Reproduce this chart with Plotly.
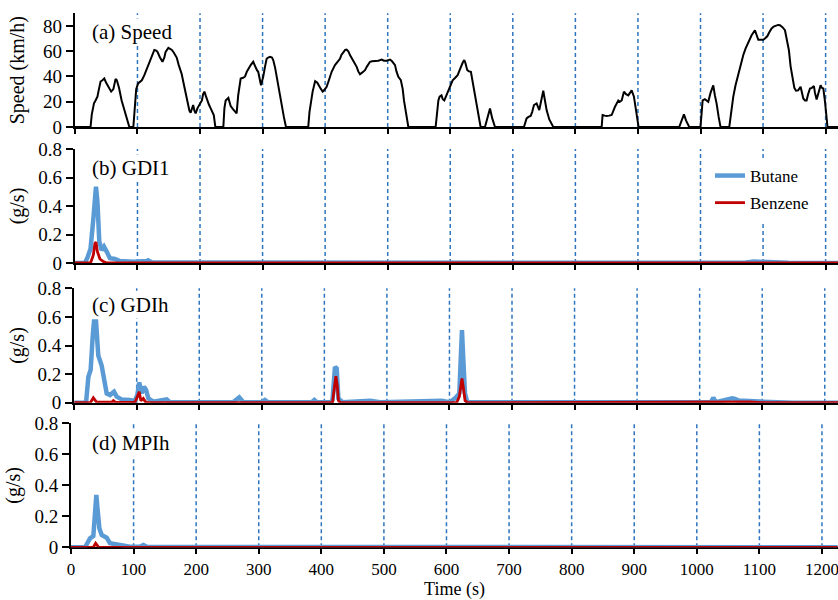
import plotly.graph_objects as go

W, H = 838, 600
FONT = "Liberation Serif, Times New Roman, serif"

# ---------------- data ----------------
time_ticks = [0, 100, 200, 300, 400, 500, 600, 700, 800, 900, 1000, 1100, 1200]
speed_ticks = [0, 20, 40, 60, 80]
emis_ticks = [0, 0.2, 0.4, 0.6, 0.8]
emis_ticktext = ["0", "0.2", "0.4", "0.6", "0.8"]
panel_labels = ["(a) Speed", "(b) GDI1", "(c) GDIh", "(d) MPIh"]

speed_t = [0, 25, 27, 30.5, 33, 36, 38, 41, 44, 47, 50, 52, 55, 58, 61.5, 65, 67, 70.5, 74.7, 78,
           81.7, 84, 87, 93.4, 96, 98, 101, 104, 107, 111, 115, 119, 123, 127, 130, 132, 136, 140, 143, 145,
           149.4, 152, 155, 158, 162.7, 166, 170.7, 174, 176, 179, 181, 183, 185, 187, 189, 191, 193, 196, 200, 203,
           205, 207, 209, 211.7, 214, 217, 220, 222, 224.5, 237.3, 239, 241, 245.3, 249, 253, 258.5, 261, 265, 269, 272,
           275, 277, 281, 285, 287, 289, 291, 293, 295, 297.5, 299, 301, 304, 306.5, 309, 312, 315, 317, 320, 322.5,
           326, 330.5, 334, 337.4, 373, 375, 377.4, 380, 384, 387.5, 392, 396, 399, 402.4, 406, 410.4, 415.7, 419, 423.7, 426,
           429, 432, 434.4, 437, 439.7, 442, 445, 448, 450.4, 453, 455.7, 459, 463.7, 467, 471.7, 475, 479.7, 485, 490.4, 494,
           498.4, 501, 503.7, 507, 511.7, 514, 517, 521, 524, 526, 529, 533, 576.6, 579, 581, 583, 586, 588, 590.5, 593,
           597, 600, 603.8, 608, 611.8, 615, 618, 620, 622.4, 624, 627.2, 630, 633, 636, 639.5, 644, 648.5, 655.5, 659, 663.5,
           667, 671.5, 717.8, 720, 722, 725, 728.5, 731, 733.8, 738, 740, 742.3, 745, 748.7, 751, 754, 758.3, 761, 764.7, 842,
           843.5, 847, 850, 854, 858, 863.3, 866, 868.6, 871, 874, 877.6, 881, 884.6, 887, 890, 893.6, 897, 901, 966, 970,
           973.5, 977, 982, 1000, 1003.4, 1007, 1010, 1012.4, 1016, 1020.4, 1023, 1025.7, 1029, 1032, 1046, 1049, 1052.4, 1056, 1060.4, 1064,
           1068.4, 1072, 1076.4, 1081.7, 1087, 1090, 1092.4, 1096, 1100.3, 1103, 1106.7, 1110, 1113.6, 1117, 1121.6, 1124, 1127, 1131, 1135, 1138,
           1141.3, 1144, 1147.2, 1150, 1152.6, 1156, 1160, 1162, 1164.3, 1167, 1169.6, 1172, 1175, 1178, 1181.3, 1183, 1185.6, 1188, 1192, 1194,
           1196.3, 1199, 1201, 1203, 1225]
speed_v = [0, 0, 10, 18.7, 21, 24, 29, 36, 37, 38.4, 35, 33, 30, 28, 30, 38, 37, 31, 21, 15,
           9.5, 5, 0, 0, 18.7, 30, 34.5, 35.5, 37, 41, 46, 52, 57, 61, 60.5, 59.5, 55, 51.6, 55, 59.5,
           62.6, 62, 61, 59, 55, 49, 42, 34, 29, 23, 18.7, 13, 11.3, 14, 17.4, 13, 10.8, 15, 18.7, 21,
           26, 28, 25, 20, 18, 14.7, 12, 9.5, 0, 0, 15, 21, 23, 16.6, 14, 10.8, 25, 38.4, 39, 40,
           44, 46, 49, 51.6, 49, 47.6, 45, 43.7, 38, 33, 36, 39.7, 48, 54, 55, 55.5, 55, 53, 47, 39.7,
           28, 16, 8, 0, 0, 12, 21, 28, 36.3, 35, 31, 28, 29.5, 31.8, 37, 43.7, 49, 51, 54, 57,
           59.5, 61, 61.3, 60, 57, 55, 52, 50, 47.6, 44, 41.8, 43, 45, 48, 51.6, 52, 52, 52.5, 53.4, 52.5,
           52.4, 53, 53.4, 52, 49, 44, 39.7, 37, 30, 21, 12, 0, 0, 12, 21, 24, 25, 22, 21, 24,
           29, 33, 37, 39, 41, 45, 49, 51, 53, 51, 45, 44, 43.7, 35, 26.6, 14, 0, 0, 7, 14.7,
           7, 0, 0, 4, 6.8, 8, 8.7, 12, 17.4, 18.7, 16, 13.4, 20, 28.7, 22, 13.4, 6, 3, 0, 0,
           9.5, 9, 8.7, 9, 9.5, 16, 18, 21, 20, 21, 28, 26, 25, 27, 29, 24, 12, 0, 0, 5,
           10, 5, 0, 0, 21, 22, 21, 20, 27, 33, 25, 18.7, 8, 0, 0, 12, 24, 33, 42, 50,
           57, 62, 67, 72.6, 76.6, 72, 69, 69, 69, 70, 71.8, 75, 78, 79.5, 80.5, 80.8, 80.5, 79, 76.6, 69,
           60.8, 48, 37, 31, 28.7, 29, 31.8, 26, 22.6, 21, 21, 26, 30.5, 31, 32.4, 27, 21.8, 26, 33, 31,
           30.5, 20, 8, 0, 0]

# (b) GDI1
gdi1_butane_t = [0, 16, 20, 25, 29.5, 32, 33.7, 36, 39, 42.8, 46.5, 50.8, 56, 64, 72, 93, 110, 115, 117, 120,
                 123, 150, 265, 268, 272, 300, 580, 585, 590, 640, 1070, 1085, 1100, 1120, 1140, 1225]
gdi1_butane_v = [0, 0, 0.037, 0.10, 0.31, 0.52, 0.535, 0.43, 0.15, 0.09, 0.115, 0.08, 0.033, 0.028, 0.014, 0.009, 0.008, 0.014, 0.019, 0.01,
                 0.006, 0.003, 0.003, 0.008, 0.003, 0.002, 0.002, 0.006, 0.002, 0.002, 0.002, 0.01, 0.008, 0.006, 0.002, 0]
gdi1_benzene_t = [0, 25, 29.5, 32, 33.7, 36, 40, 45.5, 51, 1225]
gdi1_benzene_v = [0, 0, 0.056, 0.138, 0.145, 0.08, 0.028, 0.01, 0, 0]

# (c) GDIh
gdih_butane_t = [0, 19, 22.7, 26.4, 29.6, 31.7, 35, 38.6, 44, 47.7, 52, 57.3, 63.7, 68, 76, 89, 97, 101, 104, 108,
                 111.6, 115, 118.6, 126.6, 148, 153, 254.5, 264, 270.5, 300, 305, 310, 380, 384, 388, 410, 413, 417, 419.7, 422.4,
                 429, 473, 489, 587.5, 600, 608.8, 615.8, 618.4, 620, 622, 624.8, 628.6, 752.7, 760, 1018, 1021.8, 1026, 1052, 1056.5, 1061.8,
                 1096.4, 1123, 1150, 1225]
gdih_butane_v = [0, 0, 0.18, 0.23, 0.46, 0.567, 0.567, 0.33, 0.26, 0.16, 0.065, 0.054, 0.077, 0.042, 0.023, 0.019, 0.012, 0.054, 0.142, 0.065,
                 0.112, 0.089, 0.03, 0.007, 0.023, 0.004, 0.004, 0.037, 0.004, 0.004, 0.019, 0.003, 0.003, 0.019, 0.003, 0.003, 0.02, 0.25, 0.24, 0.03,
                 0.004, 0.014, 0.003, 0.014, 0.003, 0.03, 0.065, 0.345, 0.508, 0.32, 0.065, 0.003, 0.008, 0.003, 0.003, 0.035, 0.003, 0.03, 0.026, 0.016,
                 0.008, 0.003, 0.0, 0]
gdih_benzene_t = [0, 26, 30.7, 33.3, 36, 60, 62.7, 66, 97, 101, 104, 106.7, 110.5, 113.7, 118, 413, 416.8, 418.4, 420.5, 422.6,
                  426, 611.5, 615.8, 618.4, 620, 622, 625, 629, 1060, 1080, 1100, 1225]
gdih_benzene_v = [0, 0, 0.035, 0.019, 0.003, 0.003, 0.014, 0.002, 0.002, 0.042, 0.077, 0.014, 0.03, 0.008, 0, 0, 0.135, 0.185, 0.124, 0.014,
                  0, 0, 0.042, 0.135, 0.17, 0.112, 0.014, 0, 0.005, 0.005, 0, 0]

# (d) MPIh
mpih_butane_t = [0, 22.4, 26, 30.4, 35.7, 38.4, 40.5, 42.6, 45.3, 49, 53.3, 57, 62.3, 70.3, 81, 94.3, 110, 115.6, 121, 264,
                 267, 270, 1225]
mpih_butane_v = [0, 0, 0.026, 0.058, 0.073, 0.24, 0.338, 0.24, 0.123, 0.08, 0.069, 0.062, 0.026, 0.019, 0.015, 0.004, 0.004, 0.015, 0.003, 0.003,
                 0.006, 0.003, 0]
mpih_benzene_t = [0, 35.7, 39.4, 41.5, 44.2, 1225]
mpih_benzene_v = [0, 0, 0.026, 0.012, 0, 0]

BLUE = "rgb(91,155,213)"
RED = "rgb(192,0,0)"
DASH = "rgb(46,117,190)"

# ---------------- geometry (pixels) ----------------
x0_px = [74.9, 74.9, 74.15, 71.0]          # pixel of t=0 per panel
px_per_s = [0.6256, 0.6256, 0.6255, 0.6258]
y_top_px = [13.3, 149.0, 288.3, 423.3]
y_bot_px = [127.0, 263.0, 402.7, 547.3]
y_max = [90, 0.8, 0.8, 0.8]

fig = go.Figure()

fig.add_trace(go.Scatter(x=speed_t, y=speed_v, mode="lines", line=dict(color="black", width=2),
                         showlegend=False, xaxis="x", yaxis="y", hoverinfo="skip"))

em = [(gdi1_butane_t, gdi1_butane_v, gdi1_benzene_t, gdi1_benzene_v),
      (gdih_butane_t, gdih_butane_v, gdih_benzene_t, gdih_benzene_v),
      (mpih_butane_t, mpih_butane_v, mpih_benzene_t, mpih_benzene_v)]
for k, (bt, bv, zt, zv) in enumerate(em):
    ax = str(k + 2)
    fig.add_trace(go.Scatter(x=bt, y=bv, mode="lines", name="Butane", line=dict(color=BLUE, width=4.5),
                             showlegend=(k == 0), legendgroup="butane", xaxis="x" + ax, yaxis="y" + ax))
    fig.add_trace(go.Scatter(x=zt, y=zv, mode="lines", name="Benzene", line=dict(color=RED, width=2.8),
                             showlegend=(k == 0), legendgroup="benzene", xaxis="x" + ax, yaxis="y" + ax))

layout = dict(width=W, height=H, margin=dict(l=0, r=0, t=0, b=0),
              paper_bgcolor="white", plot_bgcolor="white",
              font=dict(family=FONT, color="black"),
              legend=dict(x=710 / W, y=1 - 158 / H, xanchor="left", yanchor="top",
                          bgcolor="white", font=dict(size=17, family=FONT),
                          tracegroupgap=2, traceorder="grouped"))

shapes = []
annotations = []
for i in range(4):
    n = "" if i == 0 else str(i + 1)
    rng_end = (W - x0_px[i]) / px_per_s[i]
    layout["xaxis" + n] = dict(domain=[x0_px[i] / W, 1], range=[0, rng_end], anchor="y" + n,
                               tickvals=time_ticks, ticks="outside", ticklen=5, tickwidth=1.5, tickcolor="black",
                               showline=True, linecolor="black", linewidth=2, showgrid=False, zeroline=False,
                               showticklabels=(i == 3), tickfont=dict(size=17, family=FONT),
                               ticklabeloverflow="allow", layer="below traces", automargin=False)
    layout["yaxis" + n] = dict(domain=[1 - y_bot_px[i] / H, 1 - y_top_px[i] / H], range=[0, y_max[i]],
                               anchor="x" + n, ticks="outside", ticklen=7, tickwidth=1.5, tickcolor="black",
                               showline=True, linecolor="black", linewidth=2, showgrid=False, zeroline=False,
                               tickfont=dict(size=19, family=FONT), layer="below traces", automargin=False)
    if i == 0:
        layout["yaxis"].update(tickvals=speed_ticks,
                               title=dict(text="Speed (km/h)", font=dict(size=20, family=FONT), standoff=13))
    else:
        layout["yaxis" + n].update(tickvals=emis_ticks, ticktext=emis_ticktext,
                                   title=dict(text="(g/s)", font=dict(size=20, family=FONT), standoff=8))
    for tv in time_ticks[1:]:
        shapes.append(dict(type="line", xref="x" + n, yref="y" + n + " domain", x0=tv, x1=tv, y0=0, y1=1,
                           line=dict(color=DASH, width=1.5, dash="4px,3px"), layer="below"))
    yc = [32, 168, 305, 443][i]
    annotations.append(dict(text=panel_labels[i], xref="paper", yref="paper", x=90 / W, y=1 - yc / H,
                            xanchor="left", yanchor="middle", showarrow=False, bgcolor="white", borderpad=1,
                            font=dict(size=21, family=FONT)))

layout["xaxis4"].update(title=dict(text="Time (s)", font=dict(size=18, family=FONT), standoff=6))
layout["shapes"] = shapes
layout["annotations"] = annotations
fig.update_layout(**layout)

fig.write_html("out.html", config={"displayModeBar": False},
               post_script="document.body.style.margin='0px';")
